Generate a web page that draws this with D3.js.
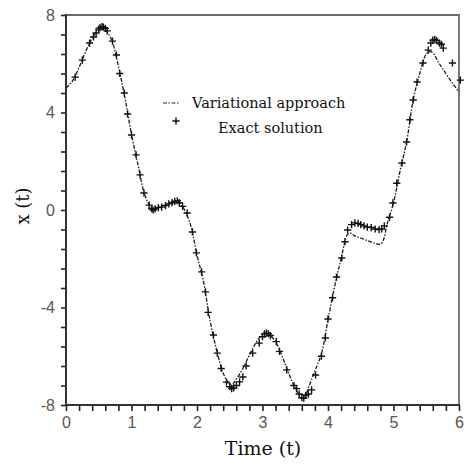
<!DOCTYPE html>
<html>
<head>
<meta charset="utf-8">
<script src="https://cdn.jsdelivr.net/npm/d3@7"></script>
<style>
  html, body { margin: 0; padding: 0; background: #fff; }
  svg { display: block; }
</style>
</head>
<body>
<div id="chart"></div>
<script>
// ---- Data ----
const lineT = [0, 0.1, 0.2, 0.3, 0.4, 0.5, 0.55, 0.6, 0.7, 0.8, 0.9, 1.0, 1.1, 1.2, 1.3, 1.35, 1.4, 1.5, 1.6, 1.7, 1.75, 1.8, 1.9, 2.0, 2.1, 2.2, 2.3, 2.4, 2.5, 2.55, 2.6, 2.7, 2.8, 2.9, 3.0, 3.05, 3.1, 3.2, 3.3, 3.4, 3.5, 3.6, 3.65, 3.7, 3.8, 3.9, 4.0, 4.1, 4.2, 4.3, 4.35, 4.4, 4.5, 4.6, 4.7, 4.8, 4.85, 4.9, 5.0, 5.1, 5.2, 5.3, 5.4, 5.5, 5.55, 5.6, 5.7, 5.8, 5.9, 6.0];
const lineX = [5.0, 5.3, 5.85, 6.5, 7.05, 7.45, 7.5, 7.4, 6.95, 5.9, 4.6, 3.1, 1.85, 0.65, 0.1, 0.05, 0.1, 0.2, 0.3, 0.35, 0.25, 0.05, -0.6, -1.85, -2.95, -4.55, -5.75, -6.7, -7.15, -7.12, -6.95, -6.5, -5.95, -5.45, -5.1, -5.05, -5.1, -5.4, -6.0, -6.7, -7.3, -7.7, -7.65, -7.3, -6.6, -5.9, -4.5, -3.15, -2.0, -1.0, -0.95, -1.05, -1.15, -1.25, -1.35, -1.4, -1.2, -0.6, 0.3, 1.6, 2.8, 4.5, 5.6, 6.4, 6.5, 6.45, 6.0, 5.6, 5.2, 4.85];

const exactT = [0.14, 0.25, 0.36, 0.42, 0.46, 0.5, 0.52, 0.55, 0.57, 0.6, 0.63, 0.71, 0.77, 0.82, 0.89, 0.94, 1.0, 1.07, 1.13, 1.19, 1.27, 1.31, 1.33, 1.36, 1.41, 1.46, 1.52, 1.57, 1.62, 1.66, 1.7, 1.73, 1.78, 1.85, 1.93, 1.99, 2.07, 2.13, 2.17, 2.25, 2.31, 2.37, 2.45, 2.5, 2.53, 2.56, 2.6, 2.65, 2.7, 2.75, 2.85, 2.95, 3.0, 3.03, 3.06, 3.09, 3.12, 3.21, 3.26, 3.37, 3.48, 3.52, 3.56, 3.6, 3.63, 3.66, 3.7, 3.75, 3.81, 3.9, 3.96, 4.0, 4.07, 4.13, 4.21, 4.26, 4.3, 4.36, 4.41, 4.46, 4.5, 4.55, 4.6, 4.66, 4.72, 4.78, 4.82, 4.86, 4.94, 4.99, 5.05, 5.13, 5.2, 5.25, 5.3, 5.36, 5.45, 5.53, 5.57, 5.6, 5.63, 5.66, 5.7, 5.73, 5.76, 5.9, 6.02];
const exactX = [5.45, 6.15, 6.85, 7.1, 7.26, 7.42, 7.48, 7.52, 7.5, 7.45, 7.35, 6.93, 6.36, 5.6, 4.8, 3.94, 3.08, 2.26, 1.44, 0.7, 0.2, 0.05, 0.0, 0.05, 0.1, 0.12, 0.18, 0.25, 0.3, 0.35, 0.38, 0.3, 0.15, -0.12, -0.9, -1.76, -2.54, -3.36, -4.2, -5.13, -5.87, -6.5, -7.06, -7.25, -7.33, -7.3, -7.2, -7.05, -6.85, -6.4, -5.87, -5.46, -5.2, -5.08, -5.05, -5.07, -5.15, -5.4, -5.8, -6.56, -7.2, -7.33, -7.55, -7.7, -7.72, -7.6, -7.55, -7.38, -6.77, -6.0, -5.25, -4.47, -3.6, -2.75, -1.97, -1.3, -0.82, -0.6, -0.53, -0.55, -0.6, -0.65, -0.7, -0.72, -0.78, -0.8, -0.78, -0.65, -0.3, 0.29, 1.1, 1.93, 2.79, 3.7, 4.51, 5.25, 6.03, 6.56, 6.85, 6.97, 7.0, 6.95, 6.85, 6.8, 6.64, 6.03, 5.33];

const xMajorTicks = [0, 1, 2, 3, 4, 5, 6];
const yMajorTicks = [-8, -4, 0, 4, 8];
const legendLabels = ["Variational approach", "Exact solution"];
const xTitle = "Time (t)";
const yTitle = "x (t)";

// ---- Layout ----
const W = 467, H = 471;
const L = 66, R = 459, T = 15, B = 405;

const svg = d3.select("#chart").append("svg").attr("width", W).attr("height", H);

const x = d3.scaleLinear().domain([0, 6]).range([L, R]);
const y = d3.scaleLinear().domain([-8, 8]).range([B, T]);

const xMinor = d3.range(0, 31).map(i => +(i * 0.2).toFixed(2));
const yMinor = d3.range(0, 21).map(i => +(-8 + i * 0.8).toFixed(2));

// X axis
const xAxis = d3.axisBottom(x)
  .tickValues(xMinor)
  .tickSize(6)
  .tickPadding(6)
  .tickFormat(d => xMajorTicks.includes(d) ? String(d) : "");
const gx = svg.append("g").attr("transform", `translate(0,${B})`).call(xAxis);
gx.select(".domain").remove();
gx.selectAll(".tick line").attr("stroke", "#222").attr("stroke-width", 1.6);
gx.selectAll(".tick text").attr("font-family", "Liberation Sans, Arial, sans-serif").attr("font-size", 16).attr("fill", "#555");

// Y axis
const yAxis = d3.axisLeft(y)
  .tickValues(yMinor)
  .tickSize(5)
  .tickPadding(6)
  .tickFormat(d => yMajorTicks.includes(d) ? String(d) : "");
const gy = svg.append("g").attr("transform", `translate(${L},0)`).call(yAxis);
gy.select(".domain").remove();
gy.selectAll(".tick line").attr("stroke", "#222").attr("stroke-width", 1.6);
gy.selectAll(".tick text").attr("font-family", "Liberation Sans, Arial, sans-serif").attr("font-size", 16).attr("fill", "#555");

// Frame
svg.append("line").attr("x1", L).attr("x2", R + 1).attr("y1", T).attr("y2", T).attr("stroke", "#6a6a6a").attr("stroke-width", 2);
svg.append("line").attr("x1", R).attr("x2", R).attr("y1", T).attr("y2", B).attr("stroke", "#7a7a7a").attr("stroke-width", 2);
svg.append("line").attr("x1", L).attr("x2", L).attr("y1", T - 1).attr("y2", B + 1).attr("stroke", "#333").attr("stroke-width", 2);
svg.append("line").attr("x1", L - 1).attr("x2", R + 1).attr("y1", B).attr("y2", B).attr("stroke", "#333").attr("stroke-width", 2);

// Variational line
const lineData = lineT.map((t, i) => [t, lineX[i]]);
const line = d3.line().x(d => x(d[0])).y(d => y(d[1])).curve(d3.curveCatmullRom.alpha(0.5));
svg.append("path").datum(lineData).attr("d", line)
  .attr("fill", "none").attr("stroke", "#1a1a1a").attr("stroke-width", 1.3)
  .attr("stroke-dasharray", "4,1.5,1.5,1.5");

// Exact markers
const ms = 3.6;
const exactData = exactT.map((t, i) => [t, exactX[i]]);
const gm = svg.append("g").attr("stroke", "#111").attr("stroke-width", 1.4);
gm.selectAll("path.m").data(exactData).join("path").attr("class", "m")
  .attr("d", d => {
    const cx = x(d[0]), cy = y(d[1]);
    return `M${cx - ms},${cy}H${cx + ms}M${cx},${cy - ms}V${cy + ms}`;
  });

// Legend
const lg = svg.append("g");
lg.append("line").attr("x1", 163).attr("x2", 179).attr("y1", 103).attr("y2", 103)
  .attr("stroke", "#222").attr("stroke-width", 1.2).attr("stroke-dasharray", "4,1.5,1.5,1.5");
lg.append("text").attr("x", 192).attr("y", 108).text(legendLabels[0])
  .attr("font-family", "DejaVu Serif, serif").attr("font-size", 14.5).attr("fill", "#111");
lg.append("path").attr("d", `M${176 - ms},121H${176 + ms}M176,${121 - ms}V${121 + ms}`)
  .attr("stroke", "#111").attr("stroke-width", 1.4);
lg.append("text").attr("x", 218).attr("y", 133).text(legendLabels[1])
  .attr("font-family", "DejaVu Serif, serif").attr("font-size", 14.5).attr("fill", "#111");

// Titles
svg.append("text").attr("x", 263).attr("y", 455).attr("text-anchor", "middle")
  .attr("font-family", "DejaVu Serif, serif").attr("font-size", 19).attr("fill", "#111").text(xTitle);
svg.append("text").attr("transform", "translate(29,206) rotate(-90)").attr("text-anchor", "middle")
  .attr("font-family", "DejaVu Serif, serif").attr("font-size", 18).attr("fill", "#111").text(yTitle);
</script>
</body>
</html>
